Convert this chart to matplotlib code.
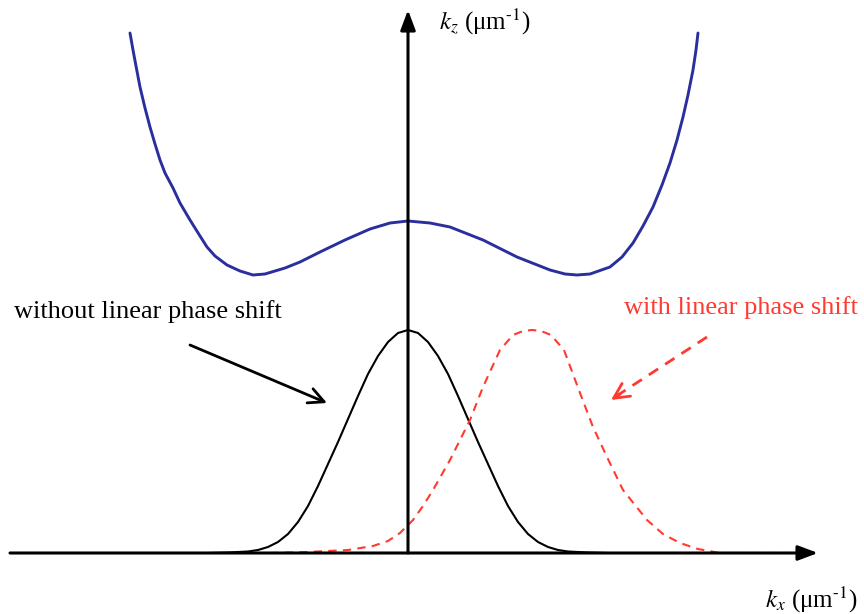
import matplotlib
matplotlib.use("Agg")
import matplotlib.pyplot as plt

plt.rcParams["font.family"] = ["Liberation Serif", "DejaVu Serif"]
plt.rcParams["mathtext.fontset"] = "stix"

# dispersion curve k_z(k_x)
disp_kx = [-278, -275, -272, -268, -263, -258, -253, -248, -243, -235, -228, -218, -208, -201, -193,
           -181, -168, -155, -143, -123, -108, -88, -63, -38, -18, 0,
           22, 42, 75, 109, 142, 157, 169, 182, 202, 214, 225, 235, 245, 254, 262, 269, 275, 280,
           285, 288, 290]
disp_kz = [520, 503, 487, 466, 445, 426, 409, 393, 380, 365, 350, 333, 317, 306, 297,
           288, 282, 278, 279, 285, 291, 301, 313, 324, 330, 332,
           330, 326, 313, 296, 283, 279, 278, 279, 286, 296, 310, 327, 346, 368, 390, 413, 436, 458,
           483, 503, 520]

# beam spectrum, no phase shift (centred at k_x = 0)
beam_kx = [-200, -180, -170, -160, -150, -140, -130, -120, -110, -100, -90, -80, -70, -60, -50, -40,
           -30, -20, -10, 0, 10, 20, 30, 40, 50, 60, 70, 80, 90, 100, 110, 120, 130, 140, 150,
           160, 170, 180, 200]
beam_amp = [0, 0.5, 1, 1.5, 3, 6, 11, 19, 31, 47, 67, 89, 111, 134, 157, 179,
            197, 211, 220, 223, 220, 211, 197, 179, 157, 134, 111, 89, 67, 47, 31, 19, 11, 6, 3,
            1.5, 1, 0.5, 0]

# beam spectrum with linear phase shift
shift_kx = [-138, -100, -60, -35, -20, -8, 5, 15, 25, 42, 62, 75, 92, 105, 115, 124,
            133, 143, 156, 172, 185, 199, 215, 239, 255, 272, 290, 312, 350, 392]
shift_amp = [0, 1, 3, 7, 12, 20, 33, 47, 63, 93, 133, 166, 203, 218, 222, 223,
             222, 218, 203, 160, 126, 96, 63, 33, 19, 10, 4, 0, 0, 0]

fig = plt.figure(figsize=(8.64, 6.14), dpi=100)
ax = fig.add_axes([0, 0, 1, 1])
ax.set_xlim(-408, 456)
ax.set_ylim(-61, 553)
ax.axis("off")

# axes with arrow heads
ax.annotate("", xy=(410, 0), xytext=(-398, 0),
            arrowprops=dict(arrowstyle="-|>,head_length=1.2,head_width=0.45", color="black",
                            lw=2.2, shrinkA=0, shrinkB=0))
ax.annotate("", xy=(0, 543), xytext=(0, 0),
            arrowprops=dict(arrowstyle="-|>,head_length=1.2,head_width=0.45", color="black",
                            lw=2.2, shrinkA=0, shrinkB=0))

ax.plot(disp_kx, disp_kz, color="#2a2f9e", lw=2.1, solid_capstyle="round", solid_joinstyle="round")
ax.plot(beam_kx, beam_amp, color="black", lw=1.5, solid_joinstyle="round")
ax.plot(shift_kx, shift_amp, color="#ff3a30", lw=1.5, ls=(0, (4, 3)))

ax.text(31, 531, r"$k_z$ (μm$^{\text{-1}}$)", fontsize=18, va="center", ha="left")
ax.text(450, -47, r"$k_x$ (μm$^{\text{-1}}$)", fontsize=18, va="center", ha="right")

ax.text(-394, 241, "without linear phase shift", fontsize=19, va="center", ha="left")
ax.annotate("", xy=(-81, 150), xytext=(-218, 208),
            arrowprops=dict(arrowstyle="->,head_length=1.1,head_width=0.55", color="black",
                            lw=2.0, shrinkA=0, shrinkB=0))

ax.text(450, 245, "with linear phase shift", fontsize=19, va="center", ha="right",
        color="#ff3a30")
ax.plot([299, 210], [216, 158], color="#ff3a30", lw=2.0, ls=(0, (4, 3)))
ax.annotate("", xy=(203, 153), xytext=(212, 159),
            arrowprops=dict(arrowstyle="->,head_length=1.1,head_width=0.55", color="#ff3a30",
                            lw=2.0, shrinkA=0, shrinkB=0))

fig.savefig("out.png", dpi=100)
